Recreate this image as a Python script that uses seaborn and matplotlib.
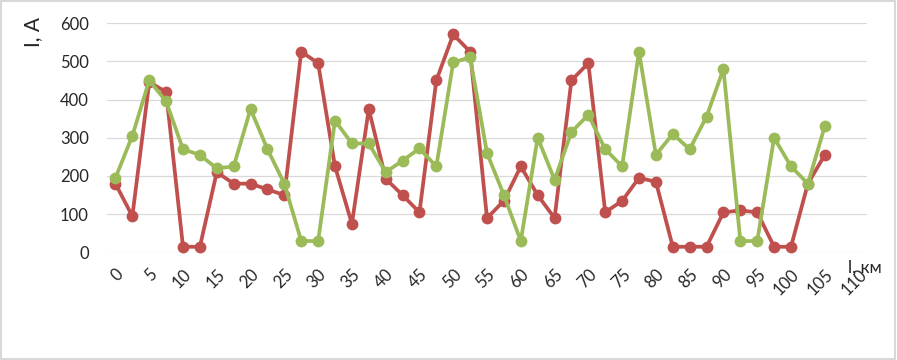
import matplotlib
matplotlib.use("Agg")
import matplotlib.pyplot as plt
import seaborn as sns
import pandas as pd
import numpy as np
from matplotlib.patches import Rectangle

# ---- data ----
distance_km = [0, 2.5, 5, 7.5, 10, 12.5, 15, 17.5, 20, 22.5, 25, 27.5, 30, 32.5, 35, 37.5,
               40, 42.5, 45, 47.5, 50, 52.5, 55, 57.5, 60, 62.5, 65, 67.5, 70, 72.5, 75,
               77.5, 80, 82.5, 85, 87.5, 90, 92.5, 95, 97.5, 100, 102.5, 105]
red_current = [180, 95, 445, 420, 15, 15, 210, 180, 180, 165, 150, 525, 495, 225, 75, 375,
               193, 150, 105, 450, 570, 525, 90, 135, 225, 150, 90, 450, 495, 105, 135,
               195, 185, 15, 15, 15, 105, 110, 105, 15, 15, 180, 255]
green_current = [195, 305, 450, 395, 270, 255, 220, 225, 375, 270, 180, 30, 30, 345, 285, 285,
                 210, 240, 272, 225, 497, 510, 260, 150, 30, 300, 190, 315, 360, 270, 225,
                 525, 255, 310, 270, 355, 480, 30, 30, 300, 225, 180, 330]
x_ticks = list(range(0, 111, 5))
y_ticks = [0, 100, 200, 300, 400, 500, 600]

RED = "#C0504D"
GREEN = "#9BBB59"
TXT = "#262626"

sns.set_theme(style="white")
plt.rcParams["font.family"] = ["Lato", "DejaVu Sans"]

fig = plt.figure(figsize=(8.97, 3.60), dpi=100)
W, H = 897, 360
left, right, top, bottom = 107, 867, 23, 252.5
ax = fig.add_axes([left / W, 1 - bottom / H, (right - left) / W, (bottom - top) / H])

df = pd.DataFrame({"x": distance_km, "red": red_current, "green": green_current})
for col, c in [("red", RED), ("green", GREEN)]:
    sns.lineplot(data=df, x="x", y=col, ax=ax, color=c, linewidth=2.7,
                 marker="o", markersize=8.5, markeredgewidth=0, sort=False)

ax.set_xlim(-1.25, 111.25)
ax.set_ylim(0, 600)
ax.set_yticks(y_ticks)
ax.set_xticks(x_ticks)
ax.set_xticklabels([str(t) for t in x_ticks])
ax.grid(axis="y", color="#D9D9D9", linewidth=0.9)
ax.grid(axis="x", visible=False)
ax.set_axisbelow(True)
for s in ax.spines.values():
    s.set_visible(False)
ax.tick_params(axis="both", length=0, labelsize=12, colors=TXT)
ax.tick_params(axis="y", pad=13)
ax.tick_params(axis="x", pad=10)
for lab in ax.get_xticklabels():
    lab.set_rotation(45)
    lab.set_ha("right")
    lab.set_va("top")
    lab.set_rotation_mode("anchor")
ax.set_xlabel("")
ax.set_ylabel("")

fig.text(33 / W, 1 - 32 / H, "I, A", rotation=90, ha="center", va="center",
         fontsize=15, color=TXT)
fig.text(848 / W, 1 - 268 / H, "l, км", ha="left", va="center",
         fontsize=12.5, color=TXT)

fig.patches.append(Rectangle((0.001, 0.002), 0.997, 0.995, transform=fig.transFigure,
                             fill=False, edgecolor="#D9D9D9", linewidth=1.5))

fig.savefig("out.png", dpi=100, facecolor="white")
